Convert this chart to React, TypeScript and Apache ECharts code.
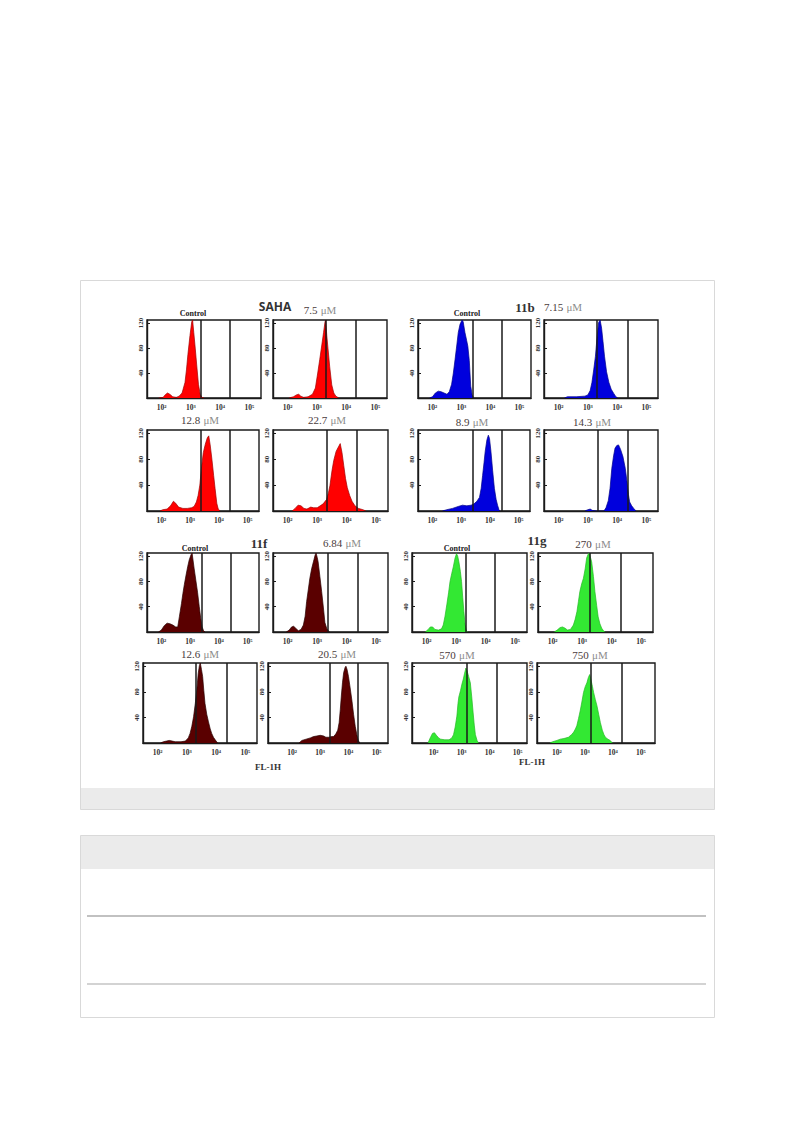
import React, { useEffect, useRef } from "react";
import * as echarts from "echarts";

// ---------- DATA ----------
const xTickValues = [2, 3, 4, 5];
const yTickValues = [40, 80, 120];
const compoundLabels = ["SAHA", "11b", "11f", "11g"];
const panelTitles = [
  "Control", "7.5", "Control", "7.15",
  "12.8", "22.7", "8.9", "14.3",
  "Control", "6.84", "Control", "270",
  "12.6", "20.5", "570", "750",
];
const axisTitle = "FL-1H";

// gate (marker) positions, log10(FL-1H)
const gateLines = [
  [3.35, 4.34], [3.31, 4.34], [3.4, 4.4], [3.31, 4.37],
  [3.38, 4.39], [3.33, 4.35], [3.41, 4.42], [3.35, 4.37],
  [3.41, 4.43], [3.36, 4.37], [3.33, 4.31], [3.26, 4.31],
  [3.31, 4.38], [3.32, 4.34], [3.17, 4.24], [3.19, 4.3],
];

// histograms: [log10(FL-1H), counts]
const sahaControl = [[1.9,0],[2.05,1],[2.12,5],[2.2,8],[2.28,6],[2.38,2],[2.5,1],[2.6,3],[2.7,8],[2.8,25],[2.85,45],[2.9,70],[2.97,100],[3.03,122],[3.06,125],[3.1,105],[3.15,80],[3.2,53],[3.26,22],[3.32,6],[3.38,1],[3.45,0]];
const saha7_5 = [[2.05,0],[2.2,2],[2.3,5],[2.38,6],[2.45,3],[2.55,1],[2.7,2],[2.85,6],[2.95,16],[3.03,40],[3.1,62],[3.17,85],[3.23,105],[3.28,122],[3.3,125],[3.34,100],[3.38,80],[3.44,50],[3.51,21],[3.58,8],[3.65,3],[3.75,0]];
const c11bControl = [[1.9,0],[2.0,2],[2.1,8],[2.2,11],[2.3,10],[2.4,8],[2.5,6],[2.58,10],[2.66,22],[2.72,40],[2.78,62],[2.84,85],[2.89,105],[2.95,118],[3.02,125],[3.06,122],[3.12,105],[3.18,92],[3.22,83],[3.27,60],[3.32,19],[3.37,5],[3.42,0]];
const c11b7_15 = [[2.2,0],[2.3,2],[2.6,2],[2.9,3],[3.0,5],[3.08,12],[3.14,25],[3.2,45],[3.26,67],[3.32,100],[3.37,121],[3.42,125],[3.47,112],[3.52,90],[3.57,67],[3.64,42],[3.72,25],[3.8,14],[3.89,7],[3.96,2],[4.02,0]];
const saha12_8 = [[1.95,0],[2.05,2],[2.2,3],[2.32,8],[2.42,15],[2.5,12],[2.6,6],[2.75,4],[2.9,4],[3.05,5],[3.14,7],[3.22,14],[3.28,24],[3.34,40],[3.4,68],[3.46,90],[3.53,103],[3.6,113],[3.65,116],[3.7,102],[3.76,80],[3.82,55],[3.87,35],[3.93,12],[3.98,3],[4.05,0]];
const saha22_7 = [[2.15,0],[2.25,4],[2.35,9],[2.45,8],[2.55,4],[2.65,3],[2.78,6],[2.88,5],[3.0,5],[3.1,8],[3.2,11],[3.32,18],[3.38,28],[3.43,39],[3.5,62],[3.56,78],[3.64,92],[3.72,99],[3.78,104],[3.84,90],[3.9,70],[3.96,50],[4.02,36],[4.1,24],[4.18,15],[4.28,8],[4.4,4],[4.55,2],[4.65,0]];
const c11b8_9 = [[2.35,0],[2.5,2],[2.7,4],[2.9,7],[3.05,9],[3.2,8],[3.35,9],[3.45,11],[3.55,15],[3.64,21],[3.7,35],[3.75,55],[3.8,75],[3.84,92],[3.9,110],[3.95,117],[3.99,112],[4.04,92],[4.1,62],[4.16,35],[4.22,18],[4.27,9],[4.32,2],[4.36,0]];
const c11b14_3 = [[2.9,0],[3.0,2],[3.08,3],[3.15,1],[3.3,0],[3.55,0],[3.62,5],[3.7,16],[3.76,35],[3.82,66],[3.88,85],[3.93,97],[3.99,101],[4.05,102],[4.12,95],[4.2,84],[4.28,66],[4.34,45],[4.39,25],[4.43,14],[4.5,8],[4.57,4],[4.65,0]];
const c11fControl = [[1.9,0],[2.0,3],[2.1,10],[2.2,14],[2.3,13],[2.4,11],[2.5,8],[2.57,8],[2.63,25],[2.7,45],[2.75,61],[2.8,75],[2.86,90],[2.92,104],[2.97,114],[3.03,122],[3.07,125],[3.14,101],[3.2,82],[3.26,63],[3.32,40],[3.37,22],[3.42,8],[3.47,2],[3.52,0]];
const c11f6_84 = [[1.95,0],[2.05,3],[2.13,8],[2.2,9],[2.27,6],[2.36,2],[2.45,4],[2.53,11],[2.59,25],[2.64,48],[2.7,68],[2.75,85],[2.81,100],[2.87,111],[2.93,122],[2.96,125],[3.0,118],[3.03,111],[3.09,88],[3.15,64],[3.21,38],[3.26,15],[3.32,6],[3.37,2],[3.42,0]];
const c11gControl = [[1.95,0],[2.05,4],[2.12,8],[2.2,8],[2.28,4],[2.4,3],[2.5,5],[2.56,11],[2.62,25],[2.68,43],[2.74,62],[2.79,80],[2.85,93],[2.9,103],[2.96,117],[3.01,124],[3.05,120],[3.09,111],[3.14,96],[3.18,80],[3.22,55],[3.26,32],[3.3,12],[3.34,3],[3.38,0]];
const c11g270 = [[2.05,0],[2.15,3],[2.25,7],[2.33,8],[2.42,6],[2.5,3],[2.6,4],[2.7,11],[2.76,20],[2.82,32],[2.87,48],[2.92,64],[2.98,76],[3.04,85],[3.1,100],[3.15,117],[3.2,123],[3.24,125],[3.28,118],[3.32,111],[3.38,88],[3.43,64],[3.49,42],[3.54,24],[3.6,13],[3.66,6],[3.72,2],[3.78,0]];
const c11f12_6 = [[2.1,0],[2.2,2],[2.3,3],[2.4,4],[2.5,3],[2.6,2],[2.8,2],[2.95,3],[3.05,8],[3.11,15],[3.17,26],[3.23,41],[3.29,62],[3.34,83],[3.39,109],[3.43,121],[3.46,125],[3.5,115],[3.54,104],[3.58,82],[3.62,62],[3.68,45],[3.74,33],[3.8,22],[3.85,15],[3.91,9],[3.97,5],[4.05,0]];
const c11f20_5 = [[2.25,0],[2.35,4],[2.5,6],[2.65,8],[2.76,10],[2.88,11],[3.0,12],[3.12,11],[3.2,9],[3.3,9],[3.4,10],[3.47,10],[3.55,14],[3.62,20],[3.67,32],[3.71,52],[3.75,75],[3.79,95],[3.83,110],[3.88,118],[3.91,120],[3.95,115],[4.0,104],[4.06,86],[4.12,67],[4.18,45],[4.24,26],[4.3,12],[4.35,4],[4.4,0]];
const c11g570 = [[1.8,0],[1.88,8],[1.96,15],[2.03,16],[2.1,12],[2.18,8],[2.25,6],[2.4,5],[2.55,5],[2.65,8],[2.71,13],[2.77,25],[2.83,42],[2.87,62],[2.9,72],[2.96,82],[3.01,92],[3.06,100],[3.1,108],[3.15,117],[3.19,113],[3.25,104],[3.31,94],[3.36,72],[3.41,47],[3.45,28],[3.49,13],[3.55,4],[3.6,0]];
const c11g750 = [[1.75,0],[1.85,2],[2.0,4],[2.12,6],[2.25,7],[2.41,9],[2.52,13],[2.6,17],[2.66,22],[2.71,27],[2.77,38],[2.83,50],[2.89,64],[2.95,79],[3.01,88],[3.07,94],[3.12,102],[3.17,107],[3.22,98],[3.27,88],[3.31,79],[3.37,68],[3.43,58],[3.49,45],[3.55,32],[3.62,20],[3.68,13],[3.73,9],[3.82,6],[3.9,4],[3.98,0]];

const histograms = [
  sahaControl, saha7_5, c11bControl, c11b7_15,
  saha12_8, saha22_7, c11b8_9, c11b14_3,
  c11fControl, c11f6_84, c11gControl, c11g270,
  c11f12_6, c11f20_5, c11g570, c11g750,
];

// ---------- LAYOUT / STYLE ----------
// [left, top, width, height, xMin, xMax]
const panelBoxes = [
  [147, 320, 114, 78, 1.5, 5.4], [273, 320, 114, 78, 1.5, 5.4], [418, 320, 113, 78, 1.5, 5.4], [544, 320, 114, 78, 1.5, 5.4],
  [147, 430, 112, 81, 1.5, 5.4], [273, 430, 115, 81, 1.5, 5.4], [418, 430, 112, 81, 1.5, 5.4], [544, 430, 114, 81, 1.5, 5.4],
  [147, 553, 112, 79, 1.5, 5.4], [273, 553, 115, 79, 1.5, 5.4], [412, 553, 115, 79, 1.5, 5.4], [538, 553, 115, 79, 1.5, 5.4],
  [143, 663, 114, 80, 1.5, 5.4], [268, 663, 120, 80, 1.15, 5.4], [412, 663, 115, 80, 1.23, 5.33], [537, 663, 118, 80, 1.29, 5.5],
];
const titlePos = [
  [193, 313], [320, 310], [467, 313], [563, 307],
  [200, 420], [327, 420], [472, 422], [592, 422],
  [195, 548], [342, 543], [457, 548], [593, 544],
  [200, 654], [337, 654], [457, 655], [590, 655],
];
const compoundPos = [[275, 306], [525, 307], [259, 543], [537, 540]];
const axisTitlePos = [[268, 767], [532, 762]];

const palette = {
  red: { fill: "#ff0000", edge: "#a00000" },
  blue: { fill: "#0000dd", edge: "#00008a" },
  maroon: { fill: "#5a0000", edge: "#2a0000" },
  green: { fill: "#33e833", edge: "#25b825" },
};
const panelColor = [
  "red", "red", "blue", "blue",
  "red", "red", "blue", "blue",
  "maroon", "maroon", "green", "green",
  "maroon", "maroon", "green", "green",
];

const sup: Record<number, string> = { 2: "\u00b2", 3: "\u00b3", 4: "\u2074", 5: "\u2075" };
const SERIF = '"Liberation Serif", "DejaVu Serif", serif';
const SANS = '"Open Sans", "Liberation Sans", sans-serif';

export default function App() {
  const ref = useRef<HTMLDivElement>(null);
  useEffect(() => {
    if (!ref.current) return;
    const chart = echarts.init(ref.current, undefined, { renderer: "svg" });

    const grid: any[] = [];
    const xAxis: any[] = [];
    const yAxis: any[] = [];
    const series: any[] = [];

    panelBoxes.forEach((b, i) => {
      const [left, top, width, height, xMin, xMax] = b;
      grid.push({
        left, top, width, height,
        show: true,
        borderColor: "#1a1a1a",
        borderWidth: 1.4,
        backgroundColor: "#ffffff",
        containLabel: false,
      });
      xAxis.push({
        type: "value",
        gridIndex: i,
        min: xMin,
        max: xMax,
        axisLine: { show: true, onZero: false, lineStyle: { color: "#1a1a1a", width: 1.4 } },
        axisTick: { show: false },
        splitLine: { show: false },
        axisLabel: {
          customValues: xTickValues,
          formatter: (v: number) => "10" + (sup[Math.round(v)] || ""),
          fontSize: 7.5,
          fontFamily: SERIF,
          fontWeight: "bold",
          color: "#333",
          margin: 5,
        },
      });
      yAxis.push({
        type: "value",
        gridIndex: i,
        min: 0,
        max: 125,
        axisLine: { show: true, lineStyle: { color: "#1a1a1a", width: 1.4 } },
        axisTick: { show: true, inside: true, length: 3, customValues: yTickValues, lineStyle: { color: "#1a1a1a" } },
        splitLine: { show: false },
        axisLabel: {
          customValues: yTickValues,
          rotate: 90,
          fontSize: 7,
          fontFamily: SERIF,
          fontWeight: "bold",
          color: "#333",
          margin: 3,
        },
      });
      const col = (palette as any)[panelColor[i]];
      series.push({
        type: "line",
        xAxisIndex: i,
        yAxisIndex: i,
        data: histograms[i],
        symbol: "none",
        smooth: false,
        lineStyle: { color: col.edge, width: 0.7 },
        areaStyle: { color: col.fill, opacity: 1 },
        markLine: {
          silent: true,
          symbol: ["none", "none"],
          label: { show: false },
          lineStyle: { color: "#1a1a1a", width: 1.5, type: "solid" },
          data: gateLines[i].map((g) => ({ xAxis: g })),
        },
        z: 3,
      });
    });

    const graphics: any[] = [];
    // page decorations
    graphics.push({ type: "rect", shape: { x: 80.5, y: 280.5, width: 634, height: 529 }, style: { fill: "#ffffff", stroke: "#d9d9d9", lineWidth: 1 }, z: -10 });
    graphics.push({ type: "rect", shape: { x: 81, y: 788, width: 633, height: 21 }, style: { fill: "#ebebeb" }, z: -9 });
    graphics.push({ type: "rect", shape: { x: 80.5, y: 835.5, width: 634, height: 182 }, style: { fill: "#ffffff", stroke: "#d9d9d9", lineWidth: 1 }, z: -10 });
    graphics.push({ type: "rect", shape: { x: 81, y: 836, width: 633, height: 33 }, style: { fill: "#ebebeb" }, z: -9 });
    graphics.push({ type: "line", shape: { x1: 87, y1: 916, x2: 706, y2: 916 }, style: { stroke: "#acacac", lineWidth: 1.5 }, z: -9 });
    graphics.push({ type: "line", shape: { x1: 87, y1: 984, x2: 706, y2: 984 }, style: { stroke: "#c4c4c4", lineWidth: 1.5 }, z: -9 });

    panelTitles.forEach((t, i) => {
      const [x, y] = titlePos[i];
      if (t === "Control") {
        graphics.push({
          type: "text", x, y, z: 10,
          style: { text: t, font: `bold 8px ${SERIF}`, fill: "#222", textAlign: "center", textVerticalAlign: "middle", align: "center", verticalAlign: "middle" },
        });
      } else {
        graphics.push({
          type: "text", x, y, z: 10,
          style: {
            text: `{n|${t}} {u|\u03bcM}`,
            rich: {
              n: { fontSize: 11, fontFamily: SERIF, fill: "#4a3c3c", fontWeight: "normal" },
              u: { fontSize: 11, fontFamily: SERIF, fill: "#8c8c8c" },
            },
            textAlign: "center", textVerticalAlign: "middle", align: "center", verticalAlign: "middle",
          },
        });
      }
    });
    compoundLabels.forEach((t, i) => {
      const [x, y] = compoundPos[i];
      graphics.push({
        type: "text", x, y, z: 10,
        style: {
          text: t,
          font: i === 0 ? `bold 12px ${SANS}` : `bold 13px ${SERIF}`,
          fill: "#333", textAlign: "center", textVerticalAlign: "middle", align: "center", verticalAlign: "middle",
        },
      });
    });
    axisTitlePos.forEach(([x, y]) => {
      graphics.push({
        type: "text", x, y, z: 10,
        style: { text: axisTitle, font: `bold 9px ${SERIF}`, fill: "#333", textAlign: "center", textVerticalAlign: "middle", align: "center", verticalAlign: "middle" },
      });
    });

    chart.setOption({
      animation: false,
      backgroundColor: "#ffffff",
      grid,
      xAxis,
      yAxis,
      series,
      graphic: { elements: graphics },
    });
    return () => chart.dispose();
  }, []);

  return (
    <div
      ref={ref}
      style={{ position: "absolute", left: 0, top: 0, width: 793, height: 1123 }}
    />
  );
}
